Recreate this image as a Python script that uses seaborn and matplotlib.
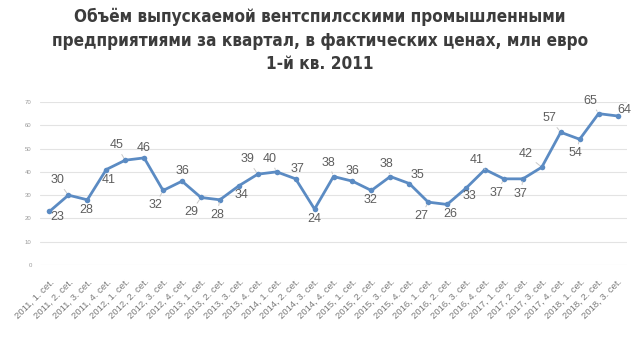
import matplotlib
matplotlib.use("Agg")
import matplotlib.pyplot as plt
import seaborn as sns
import pandas as pd

# Quarterly output, million EUR
years = [2011] * 4 + [2012] * 4 + [2013] * 4 + [2014] * 4 + [2015] * 4 + [2016] * 4 + [2017] * 4 + [2018] * 3
quarters = [1, 2, 3, 4] * 7 + [1, 2, 3]
values = [23, 30, 28, 41, 45, 46, 32, 36, 29, 28, 34, 39, 40, 37, 24, 38,
          36, 32, 38, 35, 27, 26, 33, 41, 37, 37, 42, 57, 54, 65, 64]
tick_labels = [f"{y}, {q}. cet." for y, q in zip(years, quarters)]

title_lines = [
    "Объём выпускаемой вентспилсскими промышленными",
    "предприятиями за квартал, в фактических ценах, млн евро",
    "1-й кв. 2011",
]

# Label placement (pixel offsets from each marker: right, down)
label_offsets = [(8, 6), (-11, -15), (-1, 10), (2, 10), (-9, -15), (0, -10), (-8, 15), (0, -10),
                 (-10, 15), (-3, 15), (3, 9), (-10, -15), (-7, -13), (2, -10), (0, 10), (-5, -14),
                 (0, -10), (-1, 10), (-4, -13), (8, -8), (-7, 14), (3, 10), (3, 8), (-8, -10),
                 (-7, 14), (-2, 15), (-16, -13), (-11, -14), (-4, 14), (-8, -13), (7, -6)]

df = pd.DataFrame({"idx": range(len(values)), "value": values})

sns.set_theme(style="white")
plt.rcParams["font.family"] = ["Liberation Sans", "DejaVu Sans"]

fig = plt.figure(figsize=(6.4, 3.4), dpi=100)
ax = fig.add_axes([40 / 640, 1 - 265 / 340, (627 - 40) / 640, (265 - 102) / 340])

line_color = "#5B8BC3"
sns.lineplot(data=df, x="idx", y="value", ax=ax, color=line_color, linewidth=2.0,
             marker="o", markersize=4, markeredgewidth=0, markerfacecolor=line_color, zorder=3)

ax.set_xlim(-0.5, len(values) - 0.5)
ax.set_ylim(0, 70)
ax.set_yticks(range(0, 71, 10))
ax.yaxis.grid(True, color="#E3E3E3", linewidth=0.8)
ax.xaxis.grid(False)
for s in ax.spines.values():
    s.set_visible(False)

ax.set_xticks(range(len(values)))
ax.set_xticklabels(tick_labels, rotation=45, ha="right", rotation_mode="anchor",
                   fontsize=6.8, color="#7A7A7A")
ax.tick_params(axis="x", length=0, pad=9)
ax.tick_params(axis="y", length=0, pad=6, labelsize=4.3, labelcolor="#9A9A9A")
ax.set_xlabel("")
ax.set_ylabel("")

for i, (v, (dx, dy)) in enumerate(zip(values, label_offsets)):
    far = (dx * dx + dy * dy) > 160
    ax.annotate(str(v), xy=(i, v), xytext=(dx, -dy), textcoords="offset pixels",
                ha="center", va="center", fontsize=9, color="#5E5E5E",
                arrowprops=dict(arrowstyle="-", color="#C8C8C8", linewidth=0.7,
                                shrinkA=6, shrinkB=2) if far else None,
                zorder=4)

for txt, y in zip(title_lines, [17, 41, 64]):
    fig.text(0.5, 1 - y / 340, txt, ha="center", va="center", fontsize=12.3,
             fontweight="bold", fontstretch="condensed", color="#3C3C3C",
             family=["DejaVu Sans"])

fig.savefig("out.png", dpi=100, facecolor="white")
